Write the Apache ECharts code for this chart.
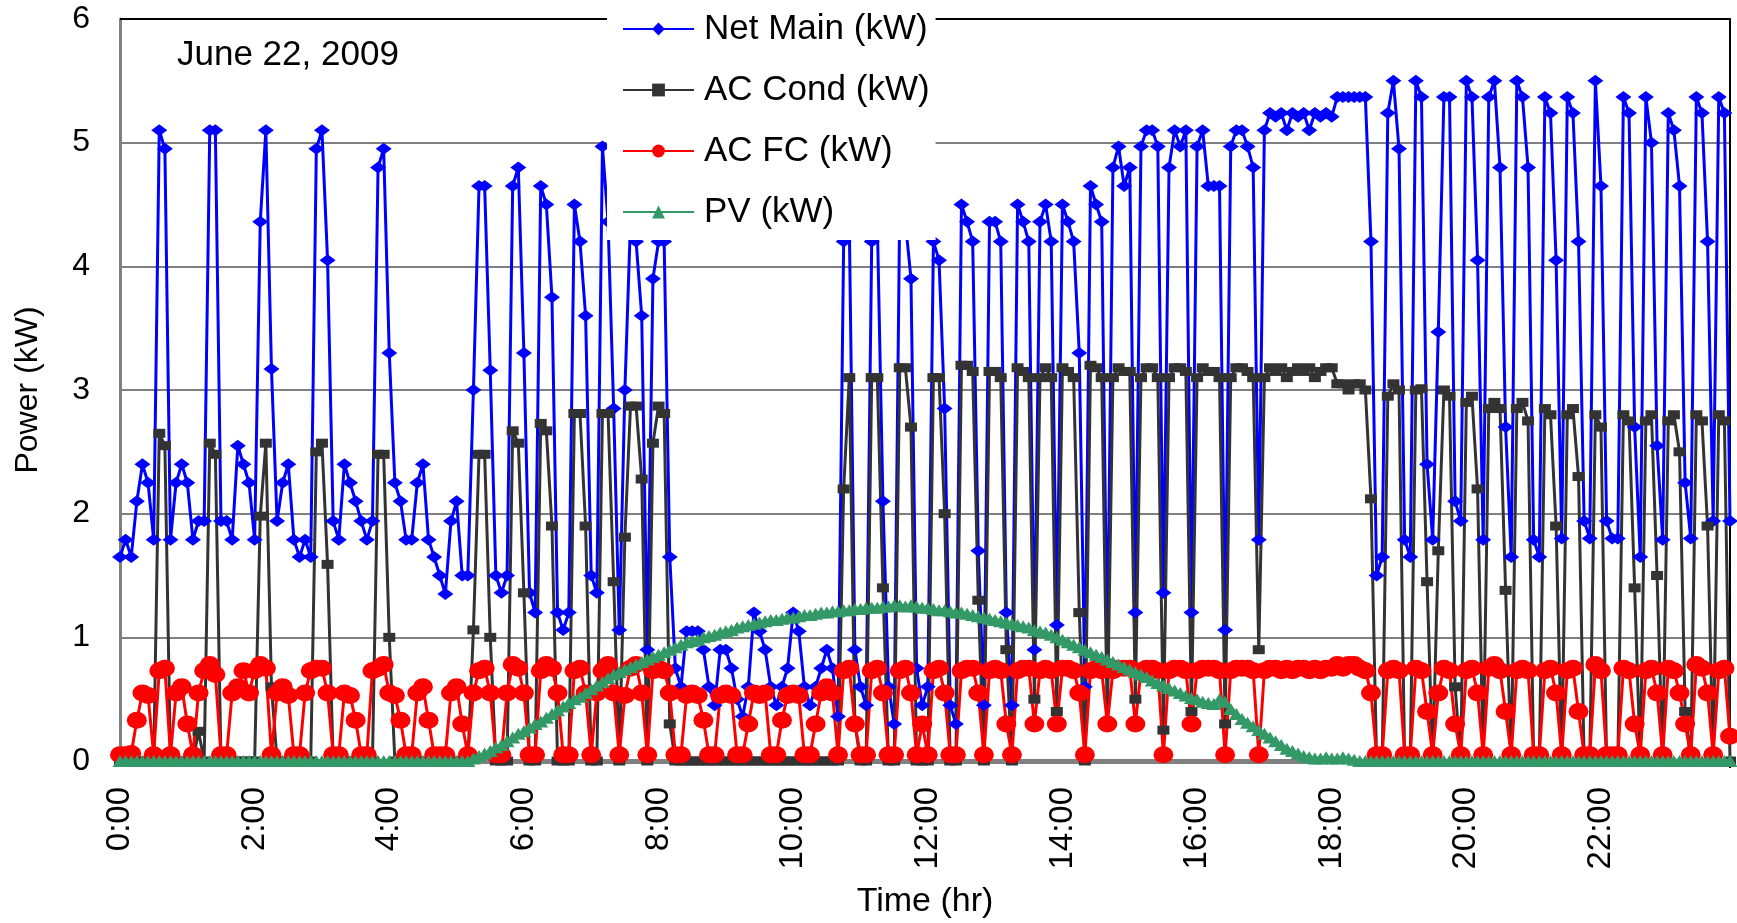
<!DOCTYPE html>
<html><head><meta charset="utf-8">
<script src="https://cdn.jsdelivr.net/npm/echarts@6/dist/echarts.min.js"></script>
<style>html,body{margin:0;padding:0;background:#fff}#c{width:1737px;height:923px}</style>
</head><body><div id="c"></div>
<script>
const FONT = "'Liberation Sans', Arial, sans-serif";
const seriesNames = ['Net Main (kW)', 'AC Cond (kW)', 'AC FC (kW)', 'PV (kW)'];
const xTickLabels = ['0:00','2:00','4:00','6:00','8:00','10:00','12:00','14:00','16:00','18:00','20:00','22:00'];
const yTicks = [0, 1, 2, 3, 4, 5, 6];

// 5-minute readings, one line per hour (12 values)
const netMain = [
1.65,1.79,1.65,2.1,2.4,2.25,1.79,5.1,4.95,1.79,2.25,2.4,
2.25,1.79,1.94,1.94,5.1,5.1,1.94,1.94,1.79,2.55,2.4,2.25,
1.79,4.36,5.1,3.17,1.94,2.25,2.4,1.79,1.65,1.79,1.65,4.95,
5.1,4.05,1.94,1.79,2.4,2.25,2.1,1.94,1.79,1.94,4.8,4.95,
3.3,2.25,2.1,1.79,1.79,2.25,2.4,1.79,1.65,1.5,1.35,1.94,
2.1,1.5,1.5,3.0,4.65,4.65,3.16,1.5,1.36,1.5,4.65,4.8,
3.3,1.36,1.2,4.65,4.5,3.75,1.2,1.06,1.2,4.5,4.2,3.6,
1.5,1.36,4.97,4.36,2.85,1.06,3.0,4.36,4.2,3.6,0.9,3.9,
4.2,4.2,1.65,0.75,0.6,1.05,1.05,1.05,0.9,0.6,0.45,0.9,
0.9,0.75,0.5,0.36,0.6,1.2,1.05,0.9,0.6,0.45,0.6,0.75,
1.2,1.05,0.6,0.45,0.6,0.75,0.9,0.75,0.36,4.2,4.36,0.9,
0.6,0.45,4.2,4.36,2.1,0.6,0.3,4.5,4.36,3.9,0.75,0.45,
0.6,4.2,4.05,2.85,0.45,0.3,4.5,4.36,4.2,1.7,0.45,4.36,
4.36,4.2,1.2,0.45,4.5,4.36,4.2,0.9,4.36,4.5,4.2,1.1,
4.5,4.36,4.2,3.3,0.6,4.65,4.5,4.36,0.8,4.8,4.97,4.65,
4.8,1.2,4.97,5.1,5.1,4.97,1.36,4.8,5.1,4.97,5.1,1.2,
4.97,5.1,4.65,4.65,4.65,1.06,4.97,5.1,5.1,4.97,4.8,1.79,
5.1,5.24,5.21,5.24,5.1,5.24,5.21,5.24,5.1,5.24,5.21,5.24,
5.21,5.37,5.37,5.37,5.37,5.37,5.37,4.2,1.5,1.65,5.24,5.5,
4.95,1.79,1.65,5.5,5.37,2.4,1.79,3.47,5.37,5.37,2.1,1.94,
5.5,5.37,4.05,1.79,5.37,5.5,4.8,2.7,1.65,5.5,5.37,4.8,
1.79,1.65,5.37,5.24,4.05,1.8,5.37,5.24,4.2,1.94,1.8,5.5,
4.65,1.94,1.8,1.8,5.37,5.24,2.7,1.65,5.37,5.0,2.55,1.79,
5.24,5.1,4.65,2.25,1.8,5.37,5.24,4.2,1.94,5.37,5.24,1.94
];
const acCond = [
0,0,0,0,0,0,0,2.65,2.55,0,0,0,
0,0,0.24,0,2.57,2.48,0,0,0,0,0,0,
0,1.98,2.57,0.6,0,0,0,0,0,0,0,2.5,
2.57,1.59,0,0,0,0,0,0,0,0,2.48,2.48,
1.0,0,0,0,0,0,0,0,0,0,0,0,
0,0,0,1.06,2.48,2.48,1.0,0,0,0,2.67,2.57,
1.36,0,0,2.73,2.67,1.9,0,0,0,2.81,2.81,1.9,
0,0,2.81,2.81,1.45,0,1.81,2.87,2.87,2.28,0,2.57,
2.87,2.81,0.3,0,0,0,0,0,0,0,0,0,
0,0,0,0,0,0,0,0,0,0,0,0,
0,0,0,0,0,0,0,0,0,2.2,3.1,0.3,
0,0,3.1,3.1,1.4,0,0,3.18,3.18,2.7,0,0,
0,3.1,3.1,2.0,0,0,3.2,3.2,3.15,1.3,0,3.15,
3.15,3.1,0.9,0,3.18,3.15,3.1,0.5,3.1,3.18,3.1,0.4,
3.18,3.15,3.1,1.2,0,3.2,3.18,3.1,0.3,3.1,3.18,3.15,
3.15,0.5,3.1,3.18,3.18,3.1,0.25,3.1,3.18,3.18,3.15,0.4,
3.1,3.18,3.15,3.15,3.1,0.3,3.1,3.18,3.18,3.15,3.1,0.9,
3.1,3.18,3.15,3.18,3.1,3.15,3.18,3.15,3.18,3.1,3.15,3.18,
3.18,3.05,3.05,3.0,3.05,3.05,3.0,2.12,0,0,2.95,3.05,
3.0,0,0,3.0,3.01,1.45,0,1.7,3.0,2.95,0.6,0,
2.9,2.95,2.2,0,2.85,2.9,2.85,1.38,0,2.85,2.9,2.75,
0,0,2.85,2.8,1.9,0,2.8,2.85,2.3,0,0,2.8,
2.7,0,0,0,2.8,2.75,1.4,0,2.75,2.8,1.5,0,
2.75,2.8,2.5,0.4,0,2.8,2.75,1.9,0,2.8,2.75,0
];
const acFC = [
0.05,0.05,0.06,0.33,0.55,0.53,0.05,0.73,0.75,0.05,0.55,0.6,
0.3,0.05,0.55,0.73,0.78,0.7,0.05,0.05,0.55,0.6,0.73,0.55,
0.73,0.78,0.75,0.05,0.55,0.6,0.53,0.05,0.05,0.55,0.73,0.75,
0.75,0.55,0.05,0.05,0.55,0.53,0.33,0.05,0.05,0.73,0.75,0.78,
0.55,0.53,0.33,0.05,0.05,0.55,0.6,0.33,0.05,0.05,0.05,0.55,
0.6,0.3,0.05,0.55,0.73,0.75,0.55,0.05,0.05,0.55,0.78,0.75,
0.55,0.05,0.05,0.73,0.78,0.75,0.55,0.05,0.05,0.73,0.75,0.55,
0.05,0.55,0.73,0.78,0.55,0.05,0.53,0.75,0.78,0.55,0.05,0.73,
0.75,0.73,0.55,0.05,0.05,0.53,0.55,0.53,0.33,0.05,0.05,0.53,
0.55,0.53,0.05,0.05,0.3,0.55,0.53,0.55,0.05,0.05,0.33,0.53,
0.55,0.53,0.05,0.05,0.3,0.55,0.6,0.55,0.05,0.73,0.75,0.3,
0.05,0.05,0.73,0.75,0.55,0.05,0.05,0.73,0.75,0.55,0.05,0.3,
0.05,0.73,0.75,0.55,0.05,0.05,0.73,0.75,0.75,0.55,0.05,0.73,
0.75,0.73,0.3,0.05,0.73,0.75,0.75,0.3,0.73,0.75,0.73,0.3,
0.75,0.75,0.73,0.55,0.05,0.73,0.75,0.73,0.3,0.73,0.75,0.75,
0.75,0.3,0.73,0.75,0.75,0.73,0.05,0.73,0.75,0.75,0.73,0.3,
0.73,0.75,0.75,0.75,0.73,0.05,0.73,0.75,0.75,0.75,0.73,0.05,
0.73,0.75,0.75,0.73,0.75,0.73,0.75,0.75,0.73,0.75,0.73,0.75,
0.75,0.78,0.75,0.78,0.78,0.75,0.73,0.55,0.05,0.05,0.73,0.75,
0.73,0.05,0.05,0.75,0.73,0.4,0.05,0.55,0.75,0.73,0.3,0.05,
0.73,0.75,0.55,0.05,0.75,0.78,0.73,0.4,0.05,0.73,0.75,0.73,
0.05,0.05,0.73,0.75,0.55,0.05,0.73,0.75,0.4,0.05,0.05,0.78,
0.73,0.05,0.05,0.05,0.75,0.73,0.3,0.05,0.73,0.75,0.55,0.05,
0.75,0.73,0.55,0.3,0.05,0.78,0.75,0.55,0.05,0.73,0.75,0.2
];
const pv = [
0,0,0,0,0,0,0,0,0,0,0,0,
0,0,0,0,0,0,0,0,0,0,0,0,
0,0,0,0,0,0,0,0,0,0,0,0,
0,0,0,0,0,0,0,0,0,0,0,0,
0,0,0,0,0,0,0,0,0,0,0,0,
0,0,0,0.02,0.04,0.06,0.08,0.11,0.13,0.16,0.19,0.22,
0.24,0.27,0.3,0.32,0.35,0.38,0.41,0.44,0.47,0.5,0.52,0.55,
0.58,0.61,0.64,0.67,0.7,0.72,0.74,0.76,0.78,0.8,0.82,0.84,
0.86,0.88,0.9,0.92,0.94,0.96,0.97,0.98,1.0,1.01,1.02,1.04,
1.05,1.06,1.08,1.09,1.1,1.11,1.12,1.13,1.14,1.14,1.15,1.16,
1.16,1.17,1.18,1.18,1.19,1.2,1.2,1.21,1.21,1.22,1.22,1.23,
1.23,1.24,1.24,1.24,1.25,1.25,1.26,1.26,1.25,1.26,1.25,1.24,
1.24,1.23,1.22,1.22,1.21,1.2,1.2,1.19,1.18,1.17,1.16,1.15,
1.14,1.13,1.12,1.11,1.1,1.09,1.08,1.06,1.05,1.04,1.02,1.0,
0.98,0.96,0.94,0.92,0.9,0.88,0.86,0.84,0.82,0.8,0.78,0.76,
0.74,0.72,0.7,0.68,0.65,0.63,0.61,0.59,0.57,0.55,0.53,0.51,
0.5,0.48,0.47,0.46,0.5,0.48,0.42,0.38,0.34,0.31,0.28,0.25,
0.22,0.19,0.16,0.13,0.1,0.08,0.06,0.04,0.03,0.02,0.02,0.03,
0.02,0.02,0.03,0.02,0.01,0,0,0,0,0,0,0,
0,0,0,0,0,0,0,0,0,0,0,0,
0,0,0,0,0,0,0,0,0,0,0,0,
0,0,0,0,0,0,0,0,0,0,0,0,
0,0,0,0,0,0,0,0,0,0,0,0,
0,0,0,0,0,0,0,0,0,0,0,0
];

// time stamps of the 5-minute readings (categories)
const times = [];
for (let i = 0; i < 288; i++) {
  const h = Math.floor(i / 12), m = (i % 12) * 5;
  times.push(h + ':' + (m < 10 ? '0' : '') + m);
}
[['netMain', netMain], ['acCond', acCond], ['acFC', acFC], ['pv', pv]].forEach(([n, a]) => {
  if (a.length !== times.length) throw new Error(n + ' has ' + a.length + ' values');
});

const GRID = { left: 120, right: 7, top: 19, bottom: 162, outerBoundsMode: 'none', containLabel: false };
const chart = echarts.init(document.getElementById('c'), null, { renderer: 'canvas' });

function lineSeries(name, data, color, symbol, size) {
  return {
    name, type: 'line', data, symbol, symbolSize: size, showAllSymbol: true,
    lineStyle: { color, width: 3 }, itemStyle: { color }, animation: false
  };
}

chart.setOption({
  animation: false,
  backgroundColor: '#fff',
  title: {
    text: 'June 22, 2009', left: 177, top: 38, padding: 0,
    textStyle: { fontFamily: FONT, fontSize: 35, fontWeight: 'normal', color: '#000' }
  },
  legend: {
    orient: 'vertical', left: 607, top: 0, padding: [9, 6, 8, 15],
    itemGap: 21, itemWidth: 71, itemHeight: 16, backgroundColor: '#fff',
    data: seriesNames,
    textStyle: { fontFamily: FONT, fontSize: 35, color: '#000', lineHeight: 40, padding: [0, 0, 0, 5] }
  },
  grid: GRID,
  graphic: [{
    type: 'polyline', z: 1,
    shape: { points: [[GRID.left, GRID.top], [1737 - GRID.right, GRID.top], [1737 - GRID.right, 923 - GRID.bottom + 7]] },
    style: { stroke: '#000', lineWidth: 2, fill: null }
  }],
  xAxis: {
    type: 'category', data: times, boundaryGap: false, offset: 9,
    name: 'Time (hr)', nameLocation: 'middle', nameGap: 115,
    nameTextStyle: { fontFamily: FONT, fontSize: 34, color: '#000' },
    axisLine: { show: true, lineStyle: { color: '#808080', width: 5 } },
    axisTick: { show: false },
    axisLabel: {
      rotate: 90, margin: 17, fontFamily: FONT, fontSize: 33, color: '#000',
      interval: (idx, val) => xTickLabels.includes(val)
    },
    splitLine: { show: false }
  },
  yAxis: {
    type: 'value', min: yTicks[0], max: yTicks[yTicks.length - 1], interval: 1,
    name: 'Power (kW)', nameLocation: 'middle', nameGap: 76, nameRotate: 90,
    nameTextStyle: { fontFamily: FONT, fontSize: 32, color: '#000' },
    axisLine: { show: true, lineStyle: { color: '#808080', width: 3 } },
    axisTick: { show: false },
    axisLabel: { margin: 30, fontFamily: FONT, fontSize: 32, color: '#000' },
    splitLine: { show: true, lineStyle: { color: '#808080', width: 2 } }
  },
  series: [
    lineSeries(seriesNames[0], netMain, '#0000FF', 'diamond', [16, 12]),
    lineSeries(seriesNames[1], acCond, '#333333', 'rect', [12, 9]),
    lineSeries(seriesNames[2], acFC, '#FF0000', 'circle', [20, 17]),
    lineSeries(seriesNames[3], pv, '#339966', 'triangle', [15, 12])
  ]
});
</script></body></html>
